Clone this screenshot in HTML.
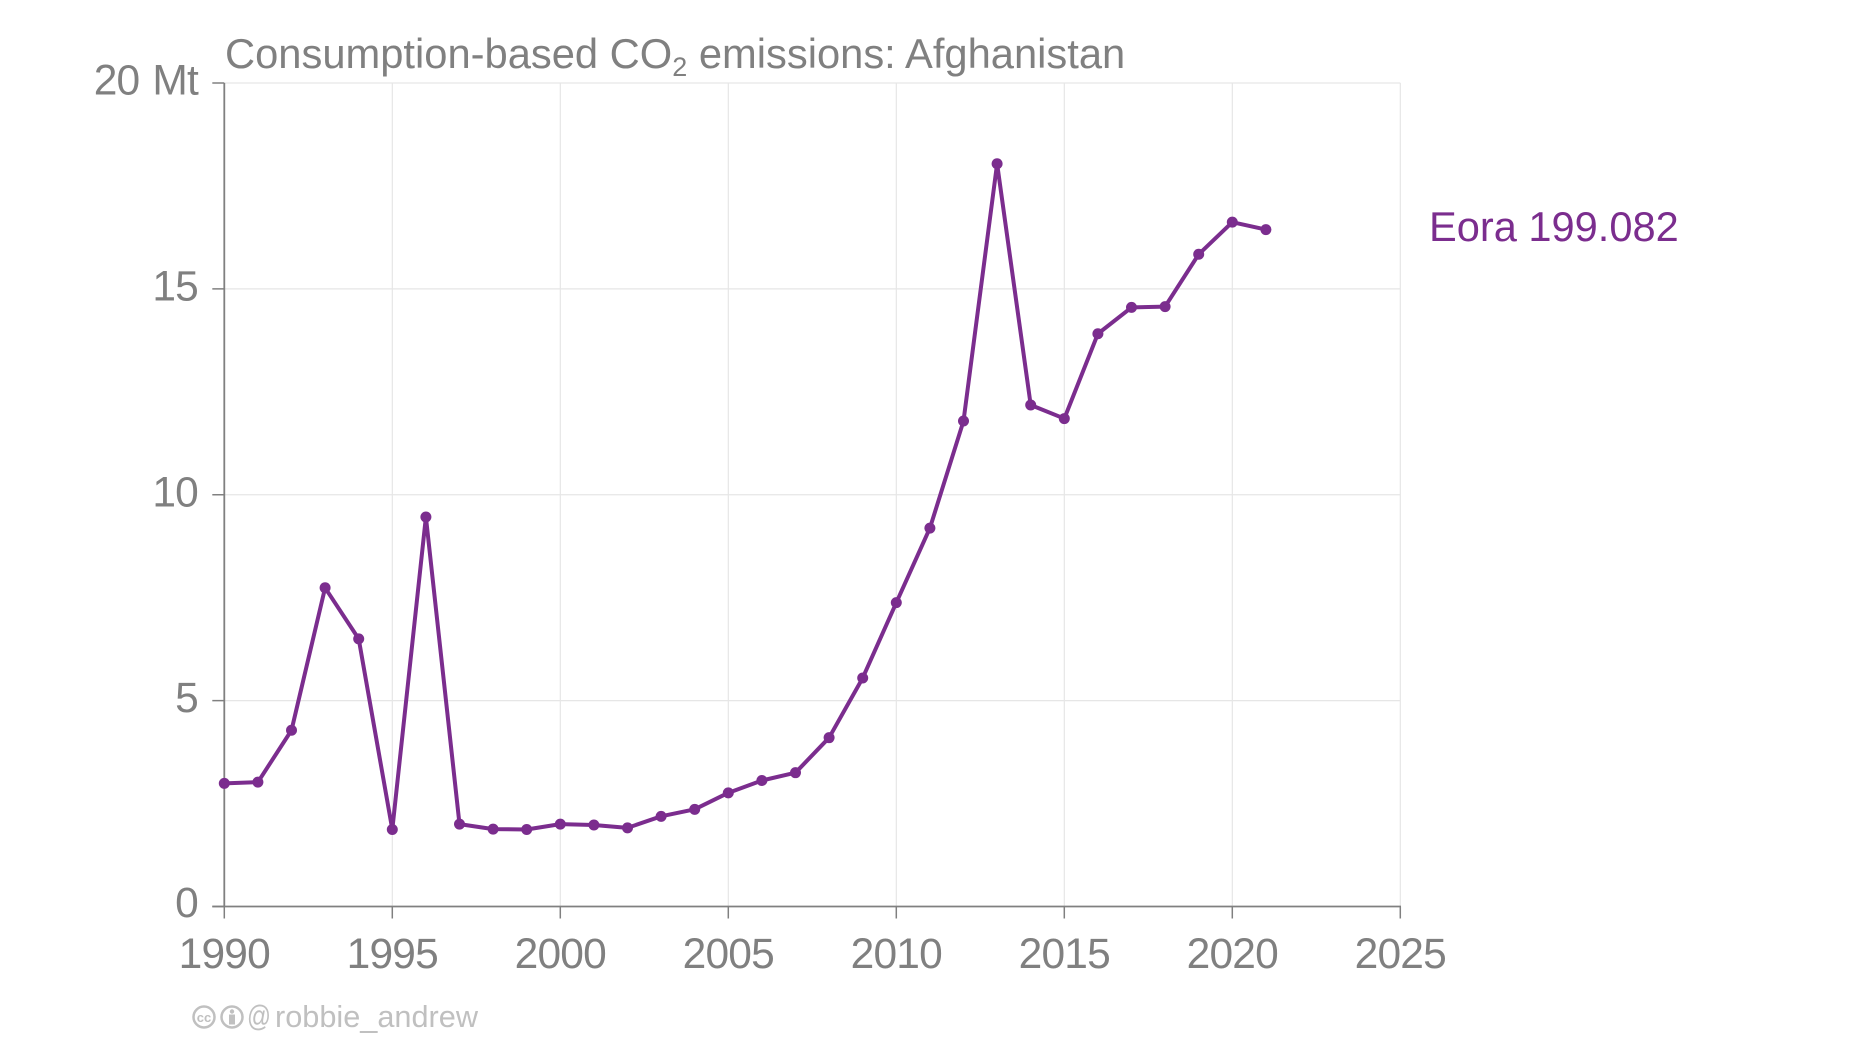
<!DOCTYPE html>
<html lang="en">
<head>
<meta charset="utf-8">
<title>Consumption-based CO2 emissions: Afghanistan</title>
<style>
html,body{margin:0;padding:0;background:#fff;width:1852px;height:1042px;overflow:hidden}
svg{display:block;font-family:"Liberation Sans",Arial,sans-serif}
</style>
</head>
<body>
<svg id="chart" width="1852" height="1042" viewBox="0 0 1852 1042">
  <g id="grid"></g>
  <g id="axes"></g>
  <g id="series"></g>
  <text x="225" y="68" font-size="41.7" fill="#808080">Consumption-based CO<tspan font-size="27" dy="8">2</tspan><tspan dy="-8"> emissions: Afghanistan</tspan></text>
  <text x="1429" y="241" font-size="41.6" fill="#7b2d8e">Eora 199.082</text>
  <g fill="none" stroke="#c0c0c0" stroke-width="2.5">
    <circle cx="204" cy="1017" r="10.5"/>
    <text x="204" y="1022" font-size="13" font-weight="bold" fill="#c0c0c0" stroke="none" text-anchor="middle">cc</text>
    <circle cx="232" cy="1017" r="10.5"/>
    <circle cx="232" cy="1011.5" r="2.2" fill="#c0c0c0" stroke="none"/>
    <rect x="229" y="1014.5" width="6" height="10" fill="#c0c0c0" stroke="none"/>
  </g>
  <text x="247" y="1026" font-size="30" fill="#c0c0c0" textLength="24" lengthAdjust="spacingAndGlyphs">@</text>
  <text x="275" y="1027" font-size="30.7" fill="#c0c0c0" textLength="203" lengthAdjust="spacingAndGlyphs">robbie_andrew</text>
</svg>
<script>
const years = [1990,1991,1992,1993,1994,1995,1996,1997,1998,1999,2000,2001,2002,2003,2004,2005,2006,2007,2008,2009,2010,2011,2012,2013,2014,2015,2016,2017,2018,2019,2020,2021];
const eoraValues = [2.99,3.02,4.28,7.74,6.50,1.87,9.46,2.00,1.88,1.87,2.00,1.98,1.91,2.19,2.36,2.76,3.06,3.25,4.10,5.55,7.38,9.19,11.79,18.04,12.18,11.85,13.91,14.55,14.57,15.84,16.62,16.44];
const xTicks = [1990,1995,2000,2005,2010,2015,2020,2025];
const yTicks = [0,5,10,15,20];
const yTickLabels = ['0','5','10','15','20 Mt'];

const X0 = 224.3, X1 = 1400.3, Y0 = 906.5, Y1 = 83;
function xScale(year) { return X0 + (year - xTicks[0]) * (X1 - X0) / (xTicks[xTicks.length - 1] - xTicks[0]); }
function yScale(value) { return Y0 - (value - yTicks[0]) * (Y0 - Y1) / (yTicks[yTicks.length - 1] - yTicks[0]); }

const NS = 'http://www.w3.org/2000/svg';
function make(tag, parent, props) {
  const el = document.createElementNS(NS, tag);
  Object.keys(props).forEach(function (k) { el.setAttribute(k, props[k]); });
  parent.appendChild(el);
  return el;
}

const grid = document.getElementById('grid');
const axes = document.getElementById('axes');
const series = document.getElementById('series');
const GRID = '#e6e6e6', AXIS = '#808080', TEXT = '#808080', COLOR = '#7b2d8e';

xTicks.forEach(function (t) {
  const x = xScale(t);
  if (t !== xTicks[0]) {
    const g = make('line', grid, {x1: x, x2: x, y1: Y1, y2: Y0, stroke: GRID, 'stroke-width': 1.2});
    
    
  }
  const tick = make('line', axes, {x1: x, x2: x, y1: Y0, y2: Y0 + 12, stroke: AXIS, 'stroke-width': 1.5});
  
  
  const label = make('text', axes, {x: x, y: 968, 'font-size': 42.5, fill: TEXT, 'text-anchor': 'middle', 'letter-spacing': -0.8});
  label.textContent = String(t);
  
  
});

yTicks.forEach(function (t, i) {
  const y = yScale(t);
  if (t !== yTicks[0]) {
    const g = make('line', grid, {x1: X0, x2: X1, y1: y, y2: y, stroke: GRID, 'stroke-width': 1.2});
    
    
  }
  const tick = make('line', axes, {x1: X0 - 12, x2: X0, y1: y, y2: y, stroke: AXIS, 'stroke-width': 1.5});
  
  
  const label = make('text', axes, {x: 198, y: y + (t === 0 ? 10.5 : 11.6), 'font-size': 42.5, fill: TEXT, 'text-anchor': 'end', 'letter-spacing': -0.8, 'word-spacing': 2});
  label.textContent = yTickLabels[i];
  
  
});

const xAxis = make('line', axes, {x1: X0 - 12, x2: X1 + 0.7, y1: Y0, y2: Y0, stroke: AXIS, 'stroke-width': 1.8});


const yAxis = make('line', axes, {x1: X0, x2: X0, y1: Y1, y2: Y0, stroke: AXIS, 'stroke-width': 1.8});



const pts = years.map(function (yr, i) { return xScale(yr) + ',' + yScale(eoraValues[i]); }).join(' ');
const line = make('polyline', series, {points: pts, fill: 'none', stroke: COLOR, 'stroke-width': 4, 'stroke-linejoin': 'round'});



years.forEach(function (yr, i) {
  const dot = make('circle', series, {cx: xScale(yr), cy: yScale(eoraValues[i]), r: 5.5, fill: COLOR});
  
  
});
</script>
</body>
</html>
